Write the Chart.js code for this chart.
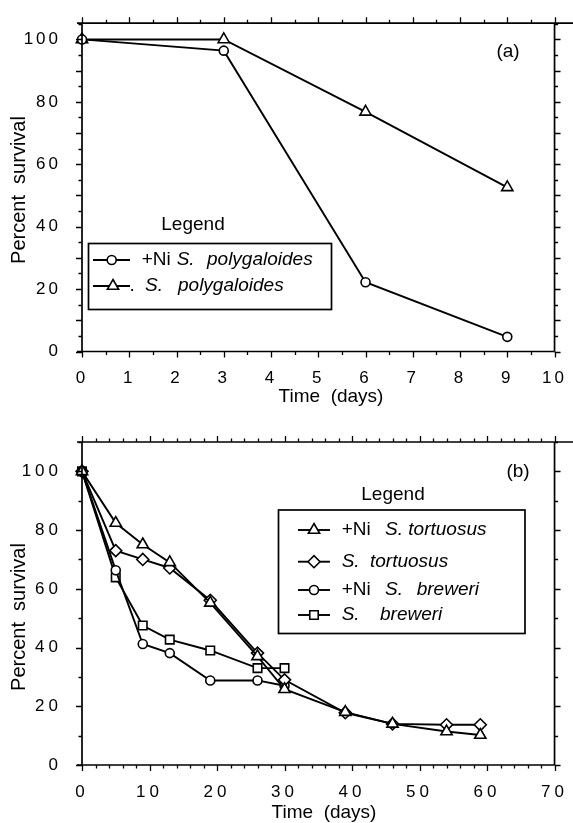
<!DOCTYPE html>
<html>
<head>
<meta charset="utf-8">
<script src="https://cdn.jsdelivr.net/npm/chart.js@4/dist/chart.umd.min.js"></script>
<style>
    html, body { margin: 0; padding: 0; background: #fff; }
    #wrap { position: relative; width: 573px; height: 823px; }
    canvas { position: absolute; left: 0; }
</style>
</head>
<body>
<div id="wrap">
    <canvas id="chartA" width="573" height="410" style="top:0"></canvas>
    <canvas id="chartB" width="573" height="413" style="top:410px"></canvas>
</div>
<script>
// panel (a)
var daysA = [0, 3, 6, 9];
var niPolygaloides = [100, 96.4, 22.2, 4.7];
var polygaloides = [100, 100, 76.8, 52.6];
var xTicksA = [0, 1, 2, 3, 4, 5, 6, 7, 8, 9, 10];
var yTicksA = [0, 20, 40, 60, 80, 100];
var legendTextA = [
    ['+Ni', 'S.', 'polygaloides'],
    ['.', 'S.', 'polygaloides']
];

// panel (b)
var daysTortuosus = [0, 5, 9, 13, 19, 26, 30, 39, 46, 54, 59];
var niTortuosus = [100, 82.4, 75.1, 69.0, 55.2, 37.0, 25.8, 18.0, 14.0, 11.4, 10.2];
var tortuosus = [100, 73.0, 70.0, 67.1, 56.1, 38.1, 29.0, 17.8, 14.0, 13.7, 13.7];
var daysBreweri = [0, 5, 9, 13, 19, 26, 30];
var niBreweri = [100, 66.3, 41.2, 38.1, 28.8, 28.8, 27.0];
var breweri = [100, 63.9, 47.5, 42.7, 39.0, 33.0, 33.0];
var xTicksB = [0, 10, 20, 30, 40, 50, 60, 70];
var yTicksB = [0, 20, 40, 60, 80, 100];
var legendTextB = [
    ['+Ni', 'S.', 'tortuosus'],
    ['', 'S.', 'tortuosus'],
    ['+Ni', 'S.', 'breweri'],
    ['', 'S.', 'breweri']
];

var FONT = "'Liberation Sans', Arial, Helvetica, sans-serif";

function pts(xs, ys) {
    return xs.map(function (x, i) { return { x: x, y: ys[i] }; });
}

function series(label, xs, ys, style, radius) {
    return {
        label: label,
        data: pts(xs, ys),
        borderColor: '#000',
        backgroundColor: '#fff',
        borderWidth: 1.9,
        pointStyle: style,
        pointRadius: radius,
        pointBackgroundColor: '#fff',
        pointBorderColor: '#000',
        pointBorderWidth: 1.6,
        tension: 0,
        clip: false
    };
}

function marker(ctx, style, r, x, y) {
    ctx.beginPath();
    if (style === 'circle') {
        ctx.arc(x, y, r, 0, Math.PI * 2);
    } else if (style === 'triangle') {
        ctx.moveTo(x, y - r);
        ctx.lineTo(x + r * 0.866, y + r / 2);
        ctx.lineTo(x - r * 0.866, y + r / 2);
        ctx.closePath();
    } else if (style === 'rectRot') {
        ctx.moveTo(x - r, y); ctx.lineTo(x, y - r); ctx.lineTo(x + r, y); ctx.lineTo(x, y + r);
        ctx.closePath();
    } else {
        var s = r * Math.SQRT1_2;
        ctx.rect(x - s, y - s, 2 * s, 2 * s);
    }
    ctx.fill();
    ctx.stroke();
}

// frame, outward ticks, titles, legend box
var decor = {
    id: 'decor',
    beforeDraw: function (chart, args, o) {
        chart.ctx.letterSpacing = o.tickSpacing;
    },
    afterDraw: function (chart, args, o) {
        var ctx = chart.ctx, a = chart.chartArea;
        var xs = chart.scales.x, ys = chart.scales.y;
        var v, len, p;
        ctx.save();
        ctx.letterSpacing = '0px';
        ctx.strokeStyle = '#000';
        ctx.fillStyle = '#000';
        ctx.lineWidth = 1.7;

        ctx.beginPath();
        ctx.moveTo(a.left - 5, a.top); ctx.lineTo(o.topLineEnd, a.top);
        ctx.moveTo(a.left - 5, a.bottom); ctx.lineTo(a.right, a.bottom);
        ctx.moveTo(a.left, a.top); ctx.lineTo(a.left, a.bottom);
        ctx.moveTo(a.right, a.top); ctx.lineTo(a.right, a.bottom);
        ctx.stroke();

        ctx.lineWidth = 1.3;
        ctx.beginPath();
        for (v = xs.min; v <= xs.max + 1e-6; v += o.xMinor) {
            len = Math.abs(v / o.xMajor - Math.round(v / o.xMajor)) < 1e-6 ? 6 : 3.5;
            p = Math.round(xs.getPixelForValue(v)) + 0.5;
            ctx.moveTo(p, a.bottom); ctx.lineTo(p, a.bottom + len);
            ctx.moveTo(p, a.top); ctx.lineTo(p, a.top - len);
        }
        for (v = 0; v <= ys.max + 1e-6; v += o.yMinor) {
            len = Math.abs(v / o.yMajor - Math.round(v / o.yMajor)) < 1e-6 ? 6 : 3.5;
            p = Math.round(ys.getPixelForValue(v)) + 0.5;
            ctx.moveTo(a.left, p); ctx.lineTo(a.left - len, p);
            ctx.moveTo(a.right, p); ctx.lineTo(a.right + len, p);
        }
        ctx.stroke();

        // axis titles
        ctx.textAlign = 'center';
        ctx.textBaseline = 'middle';
        ctx.font = '19px ' + FONT;
        ctx.fillText('Time  (days)', o.xTitle[0], o.xTitle[1]);
        ctx.save();
        ctx.translate(o.yTitle[0], o.yTitle[1]);
        ctx.rotate(-Math.PI / 2);
        ctx.font = '20px ' + FONT;
        ctx.fillText('Percent  survival', 0, 0);
        ctx.restore();

        ctx.font = '19px ' + FONT;
        ctx.fillText(o.panel, o.panelPos[0], o.panelPos[1]);

        // legend
        var L = o.legend;
        ctx.fillText('Legend', L.title[0], L.title[1]);
        ctx.lineWidth = 1.7;
        ctx.strokeRect(L.box[0], L.box[1], L.box[2] - L.box[0], L.box[3] - L.box[1]);
        ctx.textAlign = 'left';
        chart.data.datasets.forEach(function (ds, i) {
            var row = L.rows[i];
            ctx.lineWidth = 1.9;
            ctx.beginPath();
            ctx.moveTo(L.line[0], row.y); ctx.lineTo(L.line[1], row.y);
            ctx.stroke();
            ctx.fillStyle = '#fff';
            ctx.lineWidth = 1.6;
            marker(ctx, ds.pointStyle, ds.pointRadius, row.mx, row.y);
            ctx.fillStyle = '#000';
            L.text[i].forEach(function (t, k) {
                if (!t) return;
                ctx.font = (k > 0 ? 'italic ' : '') + '19px ' + FONT;
                ctx.fillText(t, row.x[k], row.y);
            });
        });
        ctx.restore();
    }
};

function tickFont() {
    return { family: FONT, size: 17 };
}

new Chart(document.getElementById('chartA'), {
    type: 'line',
    data: {
        datasets: [
            series('+Ni S. polygaloides', daysA, niPolygaloides, 'circle', 4.5),
            series('. S. polygaloides', daysA, polygaloides, 'triangle', 6.5)
        ]
    },
    options: {
        responsive: false,
        animation: false,
        layout: { padding: { left: 0, top: 15, right: 11, bottom: 0 } },
        plugins: {
            legend: { display: false },
            tooltip: { enabled: false },
            decor: {
                tickSpacing: '3px',
                topLineEnd: 573,
                xMinor: 0.5, xMajor: 1, yMinor: 5, yMajor: 10,
                xTitle: [331, 397], yTitle: [19, 190],
                panel: '(a)', panelPos: [508, 52],
                legend: {
                    title: [193, 225],
                    box: [88.5, 243.5, 331.5, 309.5],
                    line: [93, 130],
                    text: legendTextA,
                    rows: [
                        { y: 260, mx: 111.7, x: [141.7, 176.7, 207] },
                        { y: 286, mx: 113, x: [129.5, 145, 178] }
                    ]
                }
            }
        },
        scales: {
            x: {
                type: 'linear', min: 0, max: 10,
                grid: { display: false }, border: { display: false },
                ticks: { color: '#000', padding: 9, font: tickFont(), maxRotation: 0, autoSkip: false },
                afterBuildTicks: function (s) { s.ticks = xTicksA.map(function (v) { return { value: v }; }); },
                afterFit: function (s) { s.height = 58.5; }
            },
            y: {
                min: 0, max: 105.2,
                grid: { display: false }, border: { display: false },
                ticks: { color: '#000', padding: 13, font: tickFont(), autoSkip: false },
                afterBuildTicks: function (s) { s.ticks = yTicksA.map(function (v) { return { value: v }; }); },
                afterFit: function (s) { s.width = 82; }
            }
        }
    },
    plugins: [decor]
});

new Chart(document.getElementById('chartB'), {
    type: 'line',
    data: {
        datasets: [
            series('+Ni S. tortuosus', daysTortuosus, niTortuosus, 'triangle', 6.5),
            series('S. tortuosus', daysTortuosus, tortuosus, 'rectRot', 6),
            series('+Ni S. breweri', daysBreweri, niBreweri, 'circle', 4.5),
            series('S. breweri', daysBreweri, breweri, 'rect', 6)
        ]
    },
    options: {
        responsive: false,
        animation: false,
        layout: { padding: { left: 0, top: 32, right: 10.5, bottom: 0 } },
        plugins: {
            legend: { display: false },
            tooltip: { enabled: false },
            decor: {
                tickSpacing: '4px',
                topLineEnd: 573,
                xMinor: 2, xMajor: 10, yMinor: 10, yMajor: 20,
                xTitle: [324, 403], yTitle: [19, 207],
                panel: '(b)', panelPos: [518, 62],
                legend: {
                    title: [393, 85],
                    box: [278.5, 100, 525, 223.5],
                    line: [298, 330],
                    text: legendTextB,
                    rows: [
                        { y: 120, mx: 314, x: [341.7, 385, 408.3] },
                        { y: 151.7, mx: 314, x: [0, 341.7, 370] },
                        { y: 180, mx: 314, x: [341.7, 385, 416.7] },
                        { y: 205, mx: 314, x: [0, 341.7, 380] }
                    ]
                }
            }
        },
        scales: {
            x: {
                type: 'linear', min: 0, max: 70,
                grid: { display: false }, border: { display: false },
                ticks: { color: '#000', padding: 9, font: tickFont(), maxRotation: 0, autoSkip: false },
                afterBuildTicks: function (s) { s.ticks = xTicksB.map(function (v) { return { value: v }; }); },
                afterFit: function (s) { s.height = 58; }
            },
            y: {
                min: 0, max: 110,
                grid: { display: false }, border: { display: false },
                ticks: { color: '#000', padding: 12, font: tickFont(), autoSkip: false },
                afterBuildTicks: function (s) { s.ticks = yTicksB.map(function (v) { return { value: v }; }); },
                afterFit: function (s) { s.width = 82; }
            }
        }
    },
    plugins: [decor]
});
</script>
</body>
</html>
